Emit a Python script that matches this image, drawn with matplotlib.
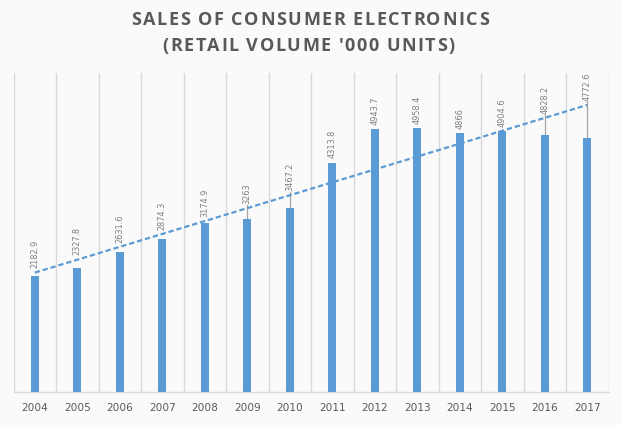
import numpy as np
import matplotlib
matplotlib.use("Agg")
import matplotlib.pyplot as plt
from matplotlib.ticker import FixedLocator
from matplotlib.font_manager import FontProperties

years = ["2004", "2005", "2006", "2007", "2008", "2009", "2010",
         "2011", "2012", "2013", "2014", "2015", "2016", "2017"]
sales = [2182.9, 2327.8, 2631.6, 2874.3, 3174.9, 3263, 3467.2,
         4313.8, 4943.7, 4958.4, 4866, 4904.6, 4828.2, 4772.6]
label_texts = ["2182.9", "2327.8", "2631.6", "2874.3", "3174.9", "3263", "3467.2",
               "4313.8", "4943.7", "4958.4", "4866", "4904.6", "4828.2", "4772.6"]
title_lines = ["SALES OF CONSUMER ELECTRONICS", "(RETAIL VOLUME '000 UNITS)"]

BLUE = "#5B9BD5"
BG = "#fafafa"
W, H = 621, 425

fig = plt.figure(figsize=(W / 100, H / 100), dpi=100, facecolor=BG)
ax = fig.add_axes([13.5 / W, 33 / H, 595 / W, 319 / H])
ax.set_facecolor(BG)

x = np.arange(len(years))
ax.bar(x, sales, width=0.19, color=BLUE, zorder=3)

# linear trend line
slope, intercept = np.polyfit(x, sales, 1)
trend = slope * x + intercept
ax.plot(x, trend, color=BLUE, lw=1.6, dashes=(2.4, 1.3), zorder=4)

# data labels
for i, (v, t, s) in enumerate(zip(sales, trend, label_texts)):
    ly = max(v, t) + 80
    if t - v > 180:
        ax.plot([i, i], [v, ly - 25], color="#a6a6a6", lw=0.9, zorder=2)
    ax.text(i, ly, s, rotation=90, ha="center", va="bottom",
            fontsize=5.9, color="#7f7f7f", family="DejaVu Sans", zorder=5)

ax.set_xlim(-0.5, len(years) - 0.5)
ax.set_ylim(0, 6000)
ax.set_xticks(x)
ax.set_xticklabels(years, fontsize=7.6, color="#595959", family="DejaVu Sans")
ax.xaxis.set_minor_locator(FixedLocator(np.arange(-0.5, len(years), 1.0)))
ax.tick_params(axis="x", which="both", length=0, pad=8)
ax.set_yticks([])
ax.grid(True, axis="x", which="minor", color="#d9d9d9", lw=1.0, zorder=0)
ax.grid(False, axis="x", which="major")
for side in ["top", "right", "left"]:
    ax.spines[side].set_visible(False)
ax.spines["bottom"].set_color("#d9d9d9")
ax.spines["bottom"].set_linewidth(1.0)

# letter-spaced title
fp = FontProperties(family="Open Sans", weight="bold", size=13.0)
renderer = fig.canvas.get_renderer()


def width(s):
    w, _, _ = renderer.get_text_width_height_descent(s, fp, ismath=False)
    return w


def advance(c):
    return width("H" + c + "H") - width("HH")


centres = [310.0, 308.5]
targets = [358, 292]
baselines = [25.3, 51.0]
for line, target, base, cx in zip(title_lines, targets, baselines, centres):
    advs = [advance(c) for c in line]
    natural = sum(advs)
    sp = max((target - natural) / (len(line) - 1), 0.0)
    total = natural + sp * (len(line) - 1)
    xpos = cx - total / 2
    for c, a in zip(line, advs):
        if c != " ":
            fig.text(xpos / W, 1 - base / H, c, ha="left", va="baseline",
                     fontproperties=fp, color="#595959")
        xpos += a + sp

fig.savefig("out.png", dpi=100, facecolor=BG)
